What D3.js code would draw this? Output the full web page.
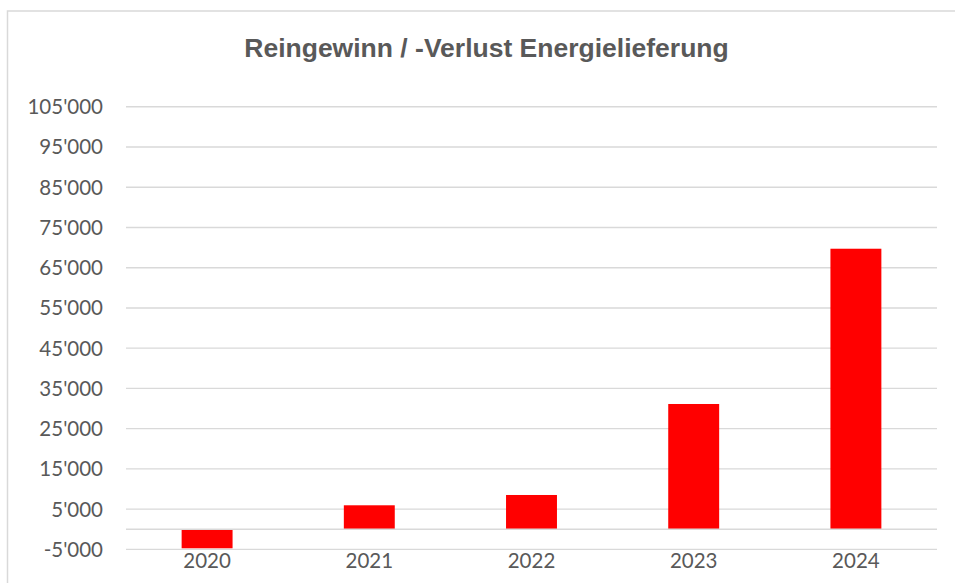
<!DOCTYPE html>
<html>
<head>
<meta charset="utf-8">
<script src="https://cdn.jsdelivr.net/npm/d3@7"></script>
<style>
  html, body { margin: 0; padding: 0; background: #fff; }
  svg { display: block; }
</style>
</head>
<body>
<svg id="chart" width="955" height="583"></svg>
<script>
const title = "Reingewinn / -Verlust Energielieferung";
const categories = ["2020", "2021", "2022", "2023", "2024"];
const values = [-4720, 5960, 8520, 31130, 69710];
const yTicks = [-5000, 5000, 15000, 25000, 35000, 45000, 55000, 65000, 75000, 85000, 95000, 105000];
const yDomain = [-5000, 105000];

const svg = d3.select("#chart");
const W = 955, H = 583;

// chart area border
svg.append("rect")
  .attr("x", 7.5).attr("y", 11)
  .attr("width", 1200).attr("height", 1200)
  .attr("fill", "#fff")
  .attr("stroke", "#d9d9d9").attr("stroke-width", 1.5);

const plot = { left: 126, right: 937, top: 106.7, bottom: 549.4 };

const x = d3.scaleBand()
  .domain(categories)
  .range([plot.left, plot.right])
  .paddingInner(0.686)
  .paddingOuter(0.343);

const y = d3.scaleLinear()
  .domain(yDomain)
  .range([plot.bottom, plot.top]);

const fmt = v => d3.format(",")(v).replace(/,/g, "'").replace("−", "-");

// gridlines
svg.append("g")
  .selectAll("line")
  .data(yTicks)
  .join("line")
  .attr("x1", plot.left).attr("x2", plot.right)
  .attr("y1", d => y(d)).attr("y2", d => y(d))
  .attr("stroke", "#d9d9d9").attr("stroke-width", 1.4);

// bars
svg.append("g")
  .selectAll("rect")
  .data(values)
  .join("rect")
  .attr("x", (d, i) => x(categories[i]))
  .attr("width", x.bandwidth())
  .attr("y", d => y(Math.max(0, d)))
  .attr("height", d => Math.abs(y(d) - y(0)))
  .attr("fill", "#ff0000");

// zero axis line
svg.append("line")
  .attr("x1", plot.left).attr("x2", plot.right)
  .attr("y1", y(0)).attr("y2", y(0))
  .attr("stroke", "#d9d9d9").attr("stroke-width", 1.4);

// y axis labels
svg.append("g")
  .selectAll("text")
  .data(yTicks)
  .join("text")
  .attr("x", 103)
  .attr("y", d => y(d) + 7.4)
  .attr("text-anchor", "end")
  .attr("font-family", "Lato, sans-serif")
  .attr("font-size", "20.5px")
  .attr("fill", "#595959")
  .text(d => fmt(d));

// x axis labels
svg.append("g")
  .selectAll("text")
  .data(categories)
  .join("text")
  .attr("x", d => x(d) + x.bandwidth() / 2)
  .attr("y", 568.3)
  .attr("text-anchor", "middle")
  .attr("font-family", "Lato, sans-serif")
  .attr("font-size", "20.5px")
  .attr("fill", "#595959")
  .text(d => d);

// title
svg.append("text")
  .attr("x", 486.5)
  .attr("y", 56.7)
  .attr("text-anchor", "middle")
  .attr("font-family", "'Liberation Sans', Arial, sans-serif")
  .attr("font-weight", "bold")
  .attr("font-size", "26.5px")
  .attr("fill", "#595959")
  .text(title);
</script>
</body>
</html>
